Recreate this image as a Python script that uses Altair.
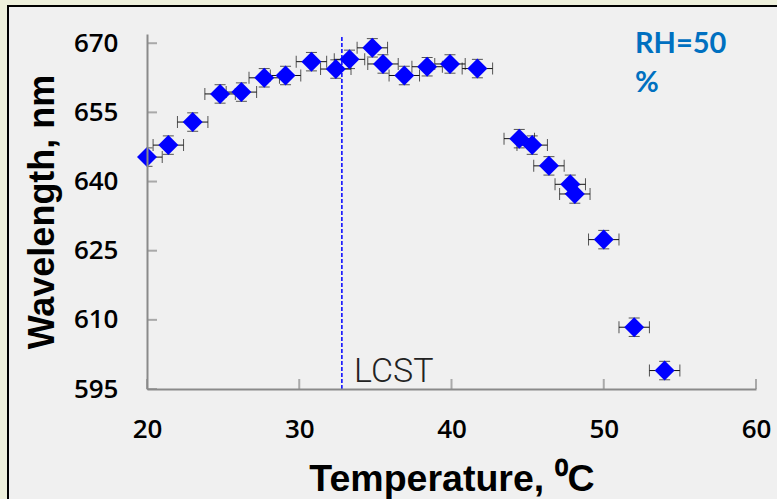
import altair as alt
import pandas as pd

# ---- data ----
temperature = [20.0, 21.4, 23.0, 24.8, 26.2, 27.7, 29.1, 30.8, 32.4, 33.3, 34.8, 35.5,
               36.9, 38.4, 39.9, 41.7, 44.45, 45.3, 46.4, 47.8, 48.1, 50.0, 52.0, 54.0]
wavelength = [645.3, 647.9, 652.9, 659.0, 659.4, 662.5, 663.0, 666.0, 664.4, 666.5, 669.0, 665.5,
              663.0, 664.9, 665.5, 664.5, 649.3, 647.9, 643.4, 639.4, 637.3, 627.4, 608.4, 599.0]
temp_err = 1.0
wave_err = 2.0
lcst_value = [32.8]
x_ticks = [20, 30, 40, 50, 60]
y_ticks = [595, 610, 625, 640, 655, 670]
x_domain = [20, 60]
y_domain = [595, 672]

df = pd.DataFrame({"T": temperature, "W": wavelength})
df["Tlo"] = df["T"] - temp_err
df["Thi"] = df["T"] + temp_err
df["Wlo"] = df["W"] - wave_err
df["Whi"] = df["W"] + wave_err

W_PX, H_PX = 609, 355
AX = "#8a8a8a"

xs = alt.Scale(domain=x_domain, nice=False, zero=False)
ys = alt.Scale(domain=y_domain, nice=False, zero=False)

xaxis = alt.Axis(values=x_ticks, title="Temperature, ⁰C", ticks=False, grid=False, zindex=1,
                 domainColor=AX, domainWidth=2, labelFont="Open Sans", labelFontWeight=600,
                 labelFontSize=26, labelColor="black", labelPadding=27, labelFlush=False,
                 labelOverlap=False,
                 titleFont="Liberation Sans", titleFontSize=37.5, titleFontWeight="bold",
                 titleColor="black", titleX=W_PX / 2, titleY=101, titleBaseline="alphabetic",
                 titleAlign="center")
yaxis = alt.Axis(values=y_ticks, title="Wavelength, nm", ticks=False, grid=False, zindex=1,
                 domainColor=AX, domainWidth=2, labelFont="Open Sans", labelFontWeight=600,
                 labelFontSize=26, labelColor="black", labelPadding=29, labelFlush=False,
                 labelOverlap=False,
                 titleFont="Liberation Sans", titleFontSize=36, titleFontWeight="bold",
                 titleColor="black", titleX=-94, titleY=H_PX / 2, titleAngle=270,
                 titleBaseline="alphabetic", titleAlign="center")


def X(f):
    return alt.X(f, type="quantitative", scale=xs, axis=xaxis)


def Y(f):
    return alt.Y(f, type="quantitative", scale=ys, axis=yaxis)


base = alt.Chart(df)

# frame (decorative panel)
frame = alt.Chart(pd.DataFrame({"a": [0]})).mark_rect(
    fill="#f0f0f0", stroke="black", strokeWidth=2
).encode(x=alt.value(-139), x2=alt.value(700), y=alt.value(-28), y2=alt.value(520))

# inward ticks
xt = alt.Chart(pd.DataFrame({"v": x_ticks})).mark_tick(
    orient="vertical", size=10, thickness=2, color=AX
).encode(x=X("v"), y=alt.value(H_PX - 5))
yt = alt.Chart(pd.DataFrame({"v": y_ticks})).mark_tick(
    orient="horizontal", size=10, thickness=2, color=AX
).encode(y=Y("v"), x=alt.value(5))

# LCST line
lcst = alt.Chart(pd.DataFrame({"v": lcst_value})).mark_rule(
    color="#0000ff", strokeWidth=1.5, strokeDash=[4, 2]
).encode(x=X("v"), y=alt.value(3), y2=alt.value(H_PX))

lcst_text = alt.Chart(pd.DataFrame({"x": [33.6], "y": [596.5], "t": ["LCST"]})).mark_text(
    font="Roboto", fontWeight=300, fontSize=34, color="#222222", align="left",
    baseline="alphabetic"
).encode(x=X("x"), y=Y("y"), text="t:N")

rh_text = alt.Chart(pd.DataFrame({"x": [52.05], "y": [667.9], "t": [["RH=50", "%"]]})).mark_text(
    font="Lato", fontWeight="bold", fontSize=29, color="#0070C0", align="left",
    baseline="alphabetic", lineHeight=39
).encode(x=X("x"), y=Y("y"), text="t")

ebc = "#111111"
hbar = base.mark_rule(color=ebc, strokeWidth=1, clip=True).encode(
    x=X("Tlo"), x2="Thi", y=Y("W"))
vbar = base.mark_rule(color=ebc, strokeWidth=1, clip=True).encode(
    x=X("T"), y=Y("Wlo"), y2="Whi")
cap_l = base.mark_tick(orient="vertical", size=12, thickness=1, color=ebc, clip=True).encode(
    x=X("Tlo"), y=Y("W"))
cap_r = base.mark_tick(orient="vertical", size=12, thickness=1, color=ebc, clip=True).encode(
    x=X("Thi"), y=Y("W"))
cap_b = base.mark_tick(orient="horizontal", size=11, thickness=1, color=ebc, clip=True).encode(
    x=X("T"), y=Y("Wlo"))
cap_t = base.mark_tick(orient="horizontal", size=11, thickness=1, color=ebc, clip=True).encode(
    x=X("T"), y=Y("Whi"))

points = base.mark_point(shape="diamond", filled=True, size=400, color="#0000ff",
                         opacity=1).encode(x=X("T"), y=Y("W"))

chart = alt.layer(
    frame, xt, yt, lcst, lcst_text, rh_text, hbar, vbar, cap_l, cap_r, cap_b, cap_t, points
).properties(
    width=W_PX, height=H_PX,
    autosize=alt.AutoSizeParams(type="none"),
    padding={"left": 147, "top": 34, "right": 21, "bottom": 110},
    background="#eef0dc",
).configure_view(stroke=None)

chart.save("out.html", embed_options={"renderer": "svg", "actions": False})
